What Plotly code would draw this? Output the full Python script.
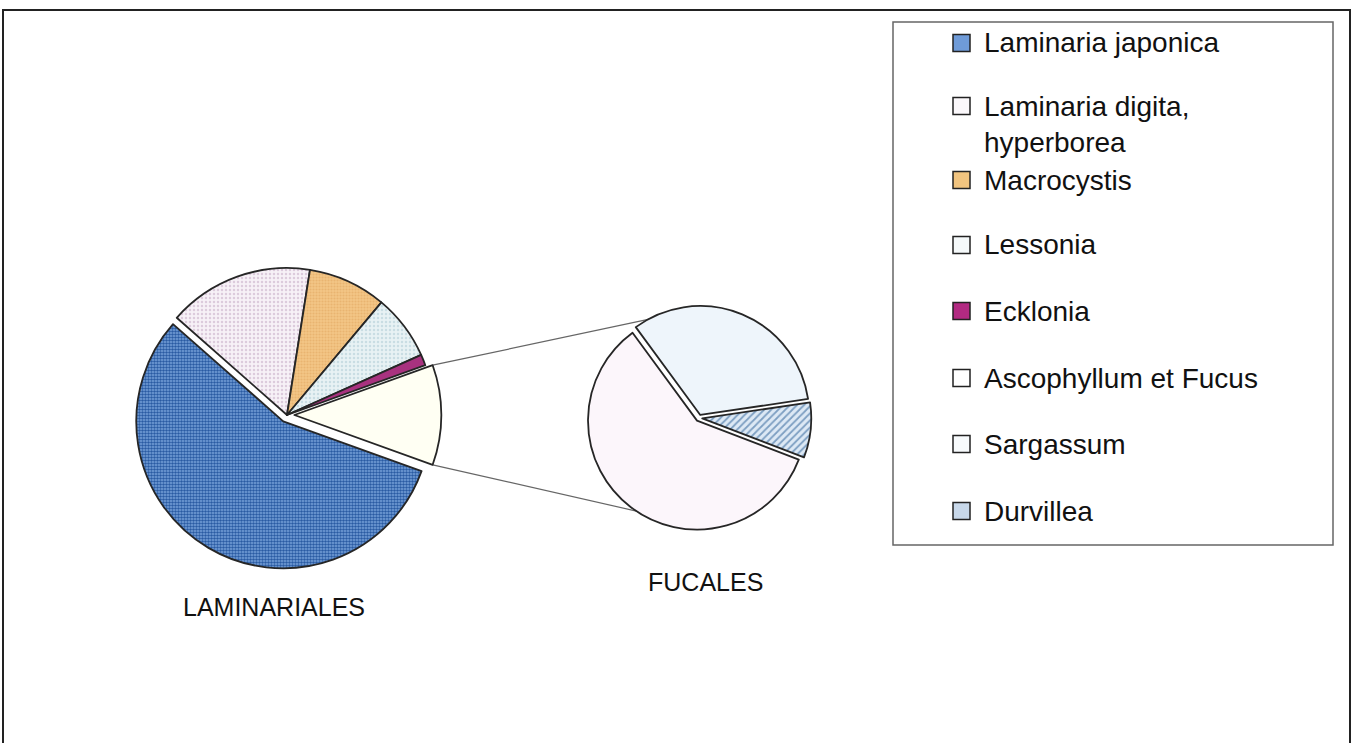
import math
import plotly.graph_objects as go

# ---------------- data ----------------
main_labels = ["Laminaria japonica", "Laminaria digita, hyperborea", "Macrocystis", "Lessonia", "Ecklonia"]
main_values = [56.0, 16.0, 8.6, 7.2, 1.2]
fucales_labels = ["Ascophyllum et Fucus", "Sargassum", "Durvillea"]
fucales_values = [6.5, 3.6, 0.9]
group_labels = ["LAMINARIALES", "FUCALES"]

# ---------------- styles ----------------
W, H = 1353, 743
FONT = "Liberation Sans, Arial, sans-serif"
EDGE = "#262626"

main_colors = ["#7aa4dc", "#f7f1f7", "#f3c686", "#e8f2f4", "#a8327f"]
main_patterns = [
    dict(shape=".", fgcolor="#2a5ba3", size=3, solidity=0.55),
    dict(shape=".", fgcolor="#dccbdc", size=4, solidity=0.3),
    dict(shape=".", fgcolor="#e9b470", size=3, solidity=0.4),
    dict(shape=".", fgcolor="#c9dde3", size=4, solidity=0.3),
    dict(shape="", fgcolor="#a8327f", size=4, solidity=0.3),
]
other_color = "#fffff3"
fuc_colors = ["#fcf6fb", "#eef5fb", "#dde9f5"]
fuc_patterns = [
    dict(shape="", fgcolor="#fcf6fb", size=4, solidity=0.3),
    dict(shape="", fgcolor="#eef5fb", size=4, solidity=0.3),
    dict(shape="/", fgcolor="#7d9fc2", size=5, solidity=0.35),
]
legend_icon_colors = ["#6f9bd8", "#fbf8fb", "#f1c47f", "#f5f9fa", "#b22a82",
                      "#ffffff", "#f7fafc", "#c8d8ea"]

# ---------------- geometry (layout) ----------------
c1x, c1y, R1, pull1 = 287, 415, 147, 0.05
c2x, c2y, R2, pull2 = 699, 418, 109, 0.03


def domain(cx, cy, r, pull):
    half = r * (1 + pull)
    return dict(x=[(cx - half) / W, (cx + half) / W],
                y=[1 - (cy + half) / H, 1 - (cy - half) / H])


other_value = sum(fucales_values)
total = sum(main_values) + other_value
main_rotation = 90 + 180 * other_value / total

fig = go.Figure()

fig.add_trace(go.Pie(
    labels=main_labels + [group_labels[1]],
    values=main_values + [other_value],
    sort=False, direction="clockwise", rotation=main_rotation,
    pull=[pull1, 0, 0, 0, 0, pull1],
    textinfo="none", hoverinfo="label+value", showlegend=False,
    marker=dict(colors=main_colors + [other_color],
                line=dict(color=EDGE, width=1.8),
                pattern=dict(shape=[p["shape"] for p in main_patterns] + [""],
                             fgcolor=[p["fgcolor"] for p in main_patterns] + [other_color],
                             bgcolor=main_colors + [other_color],
                             size=[p["size"] for p in main_patterns] + [4],
                             solidity=[p["solidity"] for p in main_patterns] + [0.3])),
    domain=domain(c1x, c1y, R1, pull1),
))

fig.add_trace(go.Pie(
    labels=fucales_labels,
    values=fucales_values,
    sort=False, direction="clockwise", rotation=111,
    pull=[pull2] * len(fucales_values),
    textinfo="none", hoverinfo="label+value", showlegend=False,
    marker=dict(colors=fuc_colors,
                line=dict(color=EDGE, width=1.8),
                pattern=dict(shape=[p["shape"] for p in fuc_patterns],
                             fgcolor=[p["fgcolor"] for p in fuc_patterns],
                             bgcolor=fuc_colors,
                             size=[p["size"] for p in fuc_patterns],
                             solidity=[p["solidity"] for p in fuc_patterns])),
    domain=domain(c2x, c2y, R2, pull2),
))


def px(x, y):
    return x / W, 1 - y / H


shapes = []
# connector lines between the "other" slice and the secondary pie
half_ang = math.radians(180 * other_value / total)
for sgn, end_deg in ((1, 113), (-1, -119)):
    sx = c1x + pull1 * R1 + R1 * math.cos(half_ang)
    sy = c1y - sgn * R1 * math.sin(half_ang)
    ex = c2x + R2 * math.cos(math.radians(end_deg))
    ey = c2y - R2 * math.sin(math.radians(end_deg))
    x0, y0 = px(sx, sy)
    x1, y1 = px(ex, ey)
    shapes.append(dict(type="line", xref="paper", yref="paper", x0=x0, y0=y0, x1=x1, y1=y1,
                       line=dict(color="#666666", width=1.2), layer="below"))

# outer frame
fx0, fy1 = px(3, 10)
fx1, _ = px(1350, 0)
shapes.append(dict(type="rect", xref="paper", yref="paper", x0=fx0, x1=fx1, y0=-0.05, y1=fy1,
                   line=dict(color="#222222", width=2), fillcolor="rgba(0,0,0,0)", layer="below"))
# legend box
lx0, ly1 = px(893, 22)
lx1, ly0 = px(1333, 545)
shapes.append(dict(type="rect", xref="paper", yref="paper", x0=lx0, x1=lx1, y0=ly0, y1=ly1,
                   line=dict(color="#666666", width=1.5), fillcolor="rgba(0,0,0,0)", layer="below"))

annotations = []
legend_labels = main_labels + fucales_labels
leg_font = 28
line_h = 1.3 * leg_font
leg_y = [43, 106, 180, 245, 311, 378, 444, 511]
for i, lab in enumerate(legend_labels):
    yc = leg_y[i]
    ix0, iy0 = px(953, yc - 8.5)
    ix1, iy1 = px(970, yc + 8.5)
    shapes.append(dict(type="rect", xref="paper", yref="paper", x0=ix0, x1=ix1, y0=iy1, y1=iy0,
                       line=dict(color="#222222", width=1.5), fillcolor=legend_icon_colors[i]))
    text = lab.replace(", ", ",<br>")
    nlines = text.count("<br>") + 1
    tx, ty = px(983, yc + (nlines - 1) * line_h / 2)
    annotations.append(dict(text=text, x=tx, y=ty, xref="paper", yref="paper",
                            xanchor="left", yanchor="middle", align="left", showarrow=False,
                            borderpad=0, font=dict(family=FONT, size=leg_font, color="#111111")))

for lab, (gx, gy) in zip(group_labels, [(274, 607), (705, 582)]):
    ax, ay = px(gx, gy)
    annotations.append(dict(text=lab, x=ax, y=ay, xref="paper", yref="paper",
                            xanchor="center", yanchor="middle", showarrow=False,
                            font=dict(family=FONT, size=25, color="#111111")))

fig.update_layout(
    width=W, height=H, autosize=False,
    margin=dict(l=0, r=0, t=0, b=0),
    paper_bgcolor="white", plot_bgcolor="white",
    shapes=shapes, annotations=annotations,
    showlegend=False,
)

fig.write_html("out.html", config={"displayModeBar": False},
               post_script="document.body.style.margin='0';")
